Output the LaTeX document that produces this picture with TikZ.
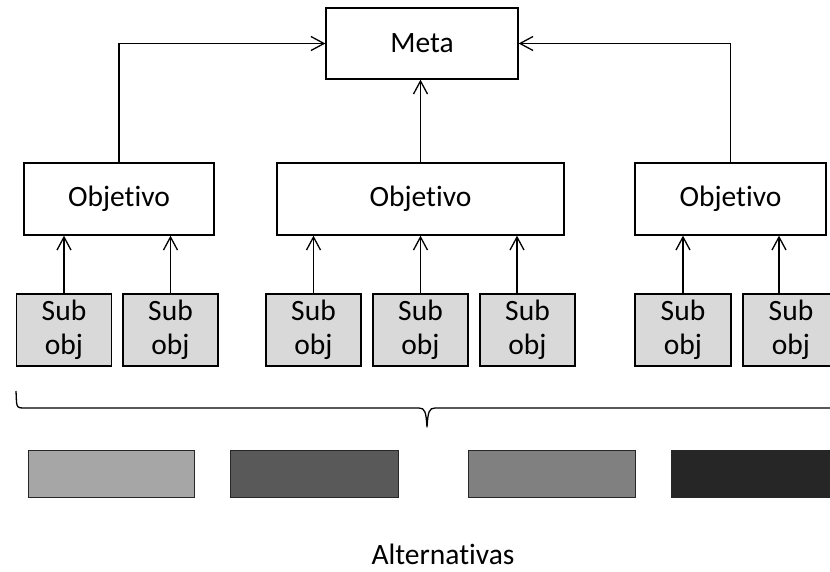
\documentclass[tikz,border=0pt]{standalone}
\usepackage{fontspec}
\setmainfont{Carlito}[RawFeature={-liga}]
\usetikzlibrary{arrows.meta}
\definecolor{subfill}{HTML}{D9D9D9}
\definecolor{altA}{HTML}{A6A6A6}
\definecolor{altB}{HTML}{595959}
\definecolor{altC}{HTML}{808080}
\definecolor{altD}{HTML}{262626}
\tikzset{
  labelfont/.style={font=\fontsize{29.5}{34}\selectfont},
  box/.style={draw=black, line width=1.3pt, inner sep=0pt, align=center, labelfont},
  goalbox/.style={box, minimum height=71pt},
  objbox/.style={box, minimum height=72pt},
  subbox/.style={box, fill=subfill, minimum width=95pt, minimum height=72pt},
  altbox/.style={draw=black!85, line width=1pt, minimum height=47pt, inner sep=0pt},
  arr/.style={line width=1.3pt, -{Straight Barb[length=13pt,width=14pt,line width=1.3pt]}},
  link/.style={line width=1.3pt},
}
\begin{document}
\begin{tikzpicture}[x=1pt,y=-1pt]
\useasboundingbox (0,0) rectangle (830,571);
\clip (0,0) rectangle (830,571);

% goal
\node[goalbox, minimum width=192pt] (meta) at (422,43.5) {Meta};

% objectives
\node[objbox, minimum width=190pt] (obj1) at (119,199) {Objetivo};
\node[objbox, minimum width=287pt] (obj2) at (420.5,199) {Objetivo};
\node[objbox, minimum width=191pt] (obj3) at (730.5,199) {Objetivo};

% sub-objectives
\node[subbox] (s1) at (64,330) {Sub\\obj};
\node[subbox] (s2) at (170.5,330) {Sub\\obj};
\node[subbox] (s3) at (313.5,330) {Sub\\obj};
\node[subbox] (s4) at (420.5,330) {Sub\\obj};
\node[subbox] (s5) at (527.5,330) {Sub\\obj};
\node[subbox, minimum width=96pt] (s6) at (683,330) {Sub\\obj};
\node[subbox, minimum width=96pt] (s7) at (791,330) {Sub\\obj};

% objectives to goal
\draw[arr] (obj1.north) |- (meta.west);
\draw[arr] (obj3.north) |- (meta.east);
\draw[arr] (obj2.north) -- (obj2.north |- meta.south);

% sub-objectives to objectives
\draw[arr] (s1.north) -- (s1.north |- obj1.south);
\draw[arr] (s2.north) -- (s2.north |- obj1.south);
\draw[arr] (s3.north) -- (s3.north |- obj2.south);
\draw[arr] (s4.north) -- (s4.north |- obj2.south);
\draw[arr] ([xshift=-10.5pt]s5.north) -- ([xshift=-10.5pt]s5.north |- obj2.south);
\draw[arr] (s6.north) -- (s6.north |- obj3.south);
\draw[arr] ([xshift=-12pt]s7.north) -- ([xshift=-12pt]s7.north |- obj3.south);

% brace over the alternatives
\coordinate (bl) at (16,391);
\coordinate (bt) at (427,427);
\coordinate (br) at (845,408);
\draw[link, line join=round] (bl) -- (16.5,402) .. controls (17,407) and (18,408) .. (23,408)
  -- (419,408) .. controls (425,408) and (426,412) .. (bt)
  .. controls (428,412) and (429,408) .. (435,408) -- (br);

% alternatives
\node[altbox, fill=altA, minimum width=166pt] (a1) at (111,473.5) {};
\node[altbox, fill=altB, minimum width=168pt] (a2) at (314,473.5) {};
\node[altbox, fill=altC, minimum width=167pt] (a3) at (551.5,473.5) {};
\node[altbox, fill=altD, minimum width=170pt] (a4) at (756,473.5) {};

\node[labelfont, inner sep=0pt] (alt) at (443,554) {Alternativas};
\end{tikzpicture}
\end{document}
